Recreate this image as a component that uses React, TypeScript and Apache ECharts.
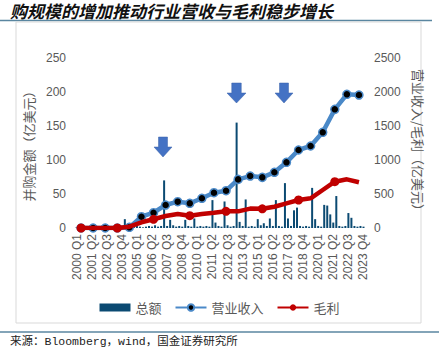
import React, { useEffect, useRef } from "react";
import * as echarts from "echarts";

const years: string[] = ["2000","2001","2002","2003","2004","2005","2006","2007","2008","2009","2010","2011","2012","2013","2014","2015","2016","2017","2018","2019","2020","2021","2022","2023"];
const quarterNames: string[] = ["Q1", "Q2", "Q3", "Q4"];
const quarters: string[] = years.flatMap((y) => quarterNames.map((q) => `${y} ${q}`));

// 并购金额（亿美元）, quarterly 2000Q1–2023Q4
const dealAmount: number[] = [
  1, 1, 2, 1, 1, 2, 1, 1, 2, 1, 1, 2, 1, 2, 1, 2,
  13, 2, 1, 2, 3, 2, 1, 2, 3, 2, 4, 2, 3, 70, 3, 12,
  4, 2, 3, 2, 12, 3, 2, 14, 2, 3, 2, 3, 2, 41, 8, 3,
  2, 39, 4, 2, 3, 155, 9, 3, 42, 2, 3, 2, 13, 4, 7, 3,
  14, 3, 41, 3, 2, 66, 14, 3, 26, 30, 3, 2, 3, 2, 59, 13,
  3, 2, 34, 33, 20, 8, 47, 3, 2, 3, 22, 15, 3, 2, 3, 2,
];
// 营业收入（亿美元）, annual
const revenue: number[] = [0, 0, 0, 0, 10, 166, 225, 338, 387, 363, 437, 519, 548, 715, 764, 745, 819, 966, 1147, 1206, 1407, 1745, 1966, 1955];
// 毛利（亿美元）, annual
const grossProfit: number[] = [0, 0, 0, 0, 20, 84, 128, 176, 206, 181, 206, 225, 245, 245, 285, 282, 313, 363, 412, 436, 559, 681, 716, 672];

const seriesNames: string[] = ["总额", "营业收入", "毛利"];
const title = "购规模的增加推动行业营收与毛利稳步增长";
const source = "来源：Bloomberg，wind，国金证券研究所";

const arrowColor = "#4472C4";
function arrow(x: number, y: number, w: number, h: number) {
  const sw = w * 0.5;
  const sh = h * 0.5;
  return {
    type: "polygon",
    silent: true,
    shape: {
      points: [
        [x + (w - sw) / 2, y],
        [x + (w + sw) / 2, y],
        [x + (w + sw) / 2, y + sh],
        [x + w, y + sh],
        [x + w / 2, y + h],
        [x, y + sh],
        [x + (w - sw) / 2, y + sh],
      ],
    },
    style: { fill: arrowColor, stroke: "#3A62A8", lineWidth: 0.5 },
  };
}

export default function App() {
  const ref = useRef<HTMLDivElement>(null);
  useEffect(() => {
    if (!ref.current) return;
    const chart = echarts.init(ref.current, undefined, { renderer: "svg" });
    const gray = "#595959";
    chart.setOption({
      animation: false,
      backgroundColor: "#ffffff",
      textStyle: { fontFamily: "Liberation Sans, Arial, 'Noto Sans CJK SC', sans-serif" },
      graphic: [
        {
          type: "text",
          x: 10,
          y: 2,
          style: {
            text: title,
            fontSize: 17,
            fontStyle: "italic",
            fontWeight: "bold",
            fontFamily: "Noto Sans CJK SC",
            fill: "#111111",
            textVerticalAlign: "top",
          },
        },
        { type: "line", shape: { x1: 0, y1: 20.5, x2: 432, y2: 20.5 }, style: { stroke: "#5A86A0", lineWidth: 1.5 } },
        { type: "rect", shape: { x: 16, y: 22, width: 405, height: 301 }, style: { fill: "none", stroke: "#D9D9D9", lineWidth: 1 } },
        { type: "line", shape: { x1: 0, y1: 332, x2: 439, y2: 332 }, style: { stroke: "#5A86A0", lineWidth: 1.5 } },
        {
          type: "text",
          left: 10,
          top: 336,
          style: {
            text: source,
            fontSize: 11.5,
            fontFamily: "'Liberation Mono', 'Noto Sans CJK SC', monospace",
            fill: "#222222",
          },
        },
        arrow(154, 137, 18, 20),
        arrow(227, 83, 19, 20),
        arrow(275, 83, 18, 20),
      ],
      grid: { left: 75, right: 74, top: 58, bottom: 128, containLabel: false },
      legend: {
        left: "center",
        top: 296,
        itemWidth: 31,
        itemHeight: 8,
        itemGap: 13,
        textStyle: { color: gray, fontSize: 13, fontFamily: "'Noto Sans CJK SC', sans-serif" },
        data: [
          { name: seriesNames[0], icon: "rect" },
          { name: seriesNames[1] },
          { name: seriesNames[2] },
        ],
      },
      xAxis: [
        {
          type: "category",
          data: quarters,
          boundaryGap: true,
          axisLine: { show: false },
          axisTick: { show: false },
          axisLabel: { interval: 4, rotate: 90, color: gray, fontSize: 12, margin: 6 },
        },
        {
          type: "category",
          data: years,
          boundaryGap: true,
          show: false,
        },
      ],
      yAxis: [
        {
          type: "value",
          min: 0,
          max: 250,
          interval: 50,
          splitLine: { show: false },
          axisLine: { show: false },
          axisTick: { show: false },
          axisLabel: { color: gray, fontSize: 12, margin: 9, formatter: (v: number) => String(v) },
          name: "并购金额（亿美元）",
          nameLocation: "middle",
          nameRotate: 90,
          nameGap: 38,
          nameTextStyle: { color: gray, fontSize: 13, fontFamily: "'Noto Sans CJK SC', sans-serif" },
        },
        {
          type: "value",
          min: 0,
          max: 2500,
          interval: 500,
          splitLine: { show: false },
          axisLine: { show: false },
          axisTick: { show: false },
          axisLabel: { color: gray, fontSize: 12, margin: 9, formatter: (v: number) => String(v) },
          name: "营业收入/毛利（亿美元）",
          nameLocation: "middle",
          nameRotate: -90,
          nameGap: 40,
          nameTextStyle: { color: gray, fontSize: 13, fontFamily: "'Noto Sans CJK SC', sans-serif" },
        },
      ],
      series: [
        {
          name: seriesNames[0],
          type: "bar",
          xAxisIndex: 0,
          yAxisIndex: 0,
          data: dealAmount,
          barWidth: 2,
          itemStyle: { color: "#0B4A72" },
        },
        {
          name: seriesNames[1],
          type: "line",
          xAxisIndex: 1,
          yAxisIndex: 1,
          data: revenue,
          symbol: "circle",
          symbolSize: 8,
          lineStyle: { color: "#4A89C8", width: 4.5 },
          itemStyle: { color: "#000000", borderColor: "#4A89C8", borderWidth: 1.5 },
          z: 3,
        },
        {
          name: seriesNames[2],
          type: "line",
          xAxisIndex: 1,
          yAxisIndex: 1,
          data: grossProfit,
          symbol: "circle",
          symbolSize: 9,
          lineStyle: { color: "#C00000", width: 4.5 },
          itemStyle: { color: "#C00000" },
          z: 4,
        },
      ],
    });
    return () => chart.dispose();
  }, []);
  return <div ref={ref} style={{ width: 439, height: 356, position: "absolute", left: 0, top: 0 }} />;
}
